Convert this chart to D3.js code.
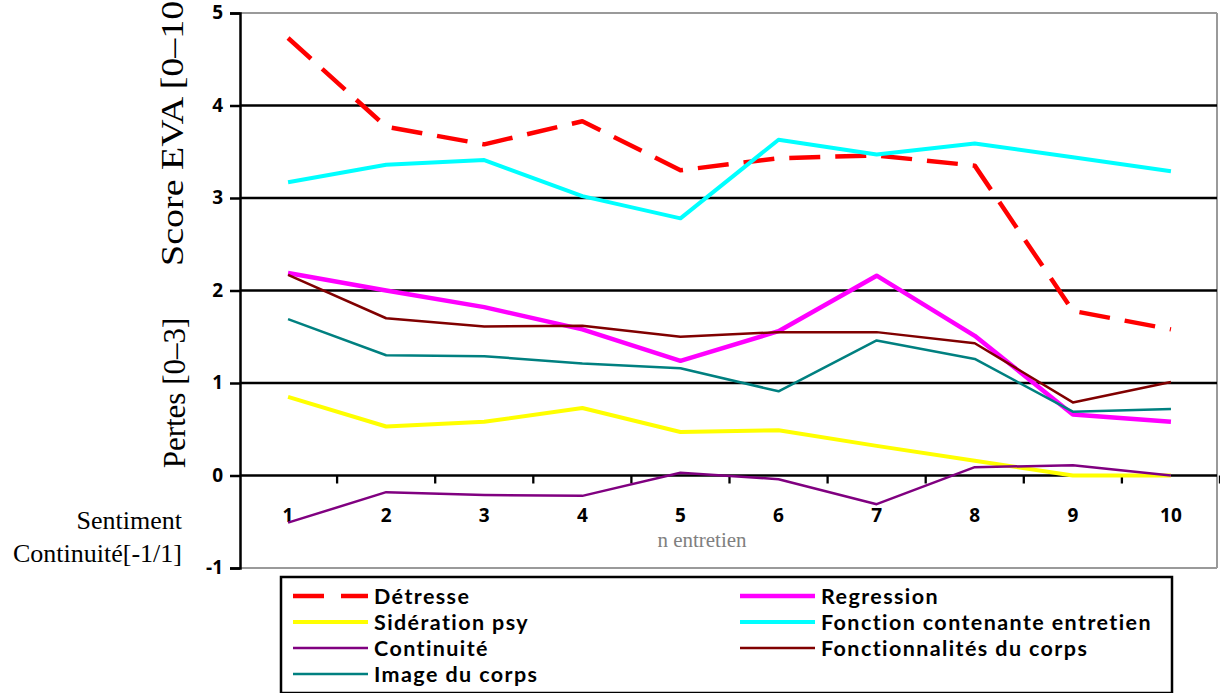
<!DOCTYPE html>
<html>
<head>
<meta charset="utf-8">
<script src="https://cdn.jsdelivr.net/npm/d3@7"></script>
<style>
  html, body { margin: 0; padding: 0; background: #fff; }
  svg { display: block; }
</style>
</head>
<body>
<svg id="chart" width="1220" height="693"></svg>
<script>
// ---- data ----
const categories = ["1", "2", "3", "4", "5", "6", "7", "8", "9", "10"];
const yTicks = [-1, 0, 1, 2, 3, 4, 5];
const gridValues = [1, 2, 3, 4];

const detresse      = [4.73, 3.77, 3.58, 3.83, 3.30, 3.43, 3.46, 3.35, 1.78, 1.58];
const regression    = [2.19, 2.00, 1.82, 1.58, 1.24, 1.56, 2.16, 1.51, 0.66, 0.58];
const sideration    = [0.85, 0.53, 0.58, 0.73, 0.47, 0.49, 0.32, 0.16, 0.00, 0.00];
const fonctionCont  = [3.17, 3.36, 3.41, 3.02, 2.78, 3.63, 3.47, 3.59, 3.44, 3.29];
const continuite    = [-0.51, -0.18, -0.21, -0.22, 0.03, -0.04, -0.31, 0.09, 0.11, 0.00];
const fonctionnal   = [2.17, 1.70, 1.61, 1.62, 1.50, 1.55, 1.55, 1.43, 0.79, 1.01];
const imageCorps    = [1.69, 1.30, 1.29, 1.21, 1.16, 0.91, 1.46, 1.26, 0.69, 0.72];

const seriesNames = ["Détresse", "Regression", "Sidération psy", "Fonction contenante entretien",
                     "Continuité", "Fonctionnalités du corps", "Image du corps"];
const seriesValues = [detresse, regression, sideration, fonctionCont, continuite, fonctionnal, imageCorps];
const seriesColors = ["#FF0000", "#FF00FF", "#FFFF00", "#00FFFF", "#800080", "#800000", "#008080"];
const seriesWidths = [4.5, 4.5, 4, 4, 2.5, 2.5, 2.5];
const seriesDash   = ["31,15", null, null, null, null, null, null];

// ---- layout ----
const svg = d3.select("#chart");
const pLeft = 240, pRight = 1217, pTop = 13, pBottom = 568;
const sansBold = "'Open Sans', Lato, sans-serif";
const legendFont = "Lato, 'Open Sans', sans-serif";
const serif = "'Liberation Serif', 'Times New Roman', serif";

const x = d3.scaleBand().domain(categories).range([239, 1220]);
const xc = d => x(d) + x.bandwidth() / 2;
const y = d3.scaleLinear().domain([-1, 5]).range([pBottom, pTop]);

// plot frame (gray)
svg.append("line").attr("x1", pLeft).attr("x2", pRight).attr("y1", pTop).attr("y2", pTop)
  .attr("stroke", "#9a9a9a").attr("stroke-width", 2);
svg.append("line").attr("x1", pRight).attr("x2", pRight).attr("y1", pTop).attr("y2", pBottom)
  .attr("stroke", "#9a9a9a").attr("stroke-width", 2);
svg.append("line").attr("x1", pLeft).attr("x2", pRight).attr("y1", pBottom).attr("y2", pBottom)
  .attr("stroke", "#9a9a9a").attr("stroke-width", 2);

// gridlines
svg.append("g").selectAll("line").data(gridValues).join("line")
  .attr("x1", pLeft).attr("x2", pRight)
  .attr("y1", d => y(d)).attr("y2", d => y(d))
  .attr("stroke", "#000").attr("stroke-width", 2.3);

// zero line (x axis)
svg.append("line").attr("x1", pLeft).attr("x2", pRight).attr("y1", y(0)).attr("y2", y(0))
  .attr("stroke", "#000").attr("stroke-width", 2.3);

// x ticks at category boundaries
svg.append("g").selectAll("line").data(categories).join("line")
  .attr("x1", d => x(d) + x.bandwidth()).attr("x2", d => x(d) + x.bandwidth())
  .attr("y1", y(0)).attr("y2", y(0) + 8)
  .attr("stroke", "#000").attr("stroke-width", 2.3);

// y axis
const yAxis = d3.axisLeft(y).tickValues(yTicks).tickSize(10).tickPadding(8)
  .tickFormat(d => d);
const gy = svg.append("g").attr("transform", `translate(${pLeft},0)`).call(yAxis);
gy.select(".domain").attr("stroke", "#000").attr("stroke-width", 2.5);
gy.selectAll(".tick line").attr("stroke", "#000").attr("stroke-width", 2.5);
gy.selectAll(".tick text")
  .attr("font-family", sansBold)
  .attr("font-weight", 700).attr("font-size", 19).attr("fill", "#000")
  .attr("dy", "0.3em").attr("x", -17);

// x labels
svg.append("g").selectAll("text").data(categories).join("text")
  .attr("x", d => xc(d)).attr("y", 522)
  .attr("text-anchor", "middle")
  .attr("font-family", sansBold)
  .attr("font-weight", 700).attr("font-size", 19).attr("fill", "#000")
  .text(d => d);

// x axis title
svg.append("text").attr("x", 702).attr("y", 547).attr("text-anchor", "middle")
  .attr("font-family", serif)
  .attr("font-size", 21).attr("fill", "#808080").text("n entretien");

// y axis titles
svg.append("text")
  .attr("transform", "translate(183,127) rotate(-90)")
  .attr("text-anchor", "middle")
  .attr("font-family", serif)
  .attr("font-size", 31).attr("fill", "#000")
  .attr("textLength", 278).attr("lengthAdjust", "spacingAndGlyphs")
  .text("Score EVA [0–10]");
svg.append("text")
  .attr("transform", "translate(185,393) rotate(-90)")
  .attr("text-anchor", "middle")
  .attr("font-family", serif)
  .attr("font-size", 31).attr("fill", "#000")
  .text("Pertes [0–3]");
svg.append("text").attr("x", 182).attr("y", 529).attr("text-anchor", "end")
  .attr("font-family", serif)
  .attr("font-size", 26).attr("fill", "#000").text("Sentiment");
svg.append("text").attr("x", 182).attr("y", 562).attr("text-anchor", "end")
  .attr("font-family", serif)
  .attr("font-size", 26).attr("fill", "#000").text("Continuité[-1/1]");

// series lines
const line = d3.line().x((d, i) => xc(categories[i])).y(d => y(d));
seriesValues.forEach((vals, i) => {
  svg.append("path").datum(vals)
    .attr("d", line)
    .attr("fill", "none")
    .attr("stroke", seriesColors[i])
    .attr("stroke-width", seriesWidths[i])
    .attr("stroke-linejoin", "round")
    .attr("stroke-dasharray", seriesDash[i]);
});

// legend
const lg = svg.append("g");
lg.append("rect").attr("x", 281).attr("y", 577).attr("width", 891).attr("height", 116)
  .attr("fill", "#fff").attr("stroke", "#000").attr("stroke-width", 2.5);
const legendCols = [[293, 374], [740, 821]];
const legendRows = [596, 622, 648, 674];
seriesNames.forEach((name, i) => {
  const col = i % 2, row = Math.floor(i / 2);
  const [lx, tx] = legendCols[col];
  const ly = legendRows[row];
  lg.append("line").attr("x1", lx).attr("x2", lx + 75).attr("y1", ly).attr("y2", ly)
    .attr("stroke", seriesColors[i]).attr("stroke-width", seriesWidths[i])
    .attr("stroke-dasharray", seriesDash[i] ? "31,17" : null);
  lg.append("text").attr("x", tx).attr("y", ly).attr("dy", "0.36em")
    .attr("font-family", legendFont)
    .attr("font-weight", 700).attr("font-size", 21.5).attr("fill", "#000")
    .attr("letter-spacing", 1.4)
    .text(name);
});
</script>
</body>
</html>
